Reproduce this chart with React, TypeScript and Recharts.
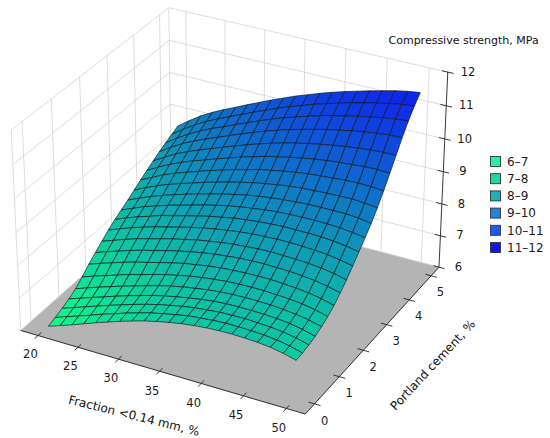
import { ScatterChart, Scatter, XAxis, YAxis, Legend } from "recharts";

// response surface grid
const FRACTION = [20, 21.5, 23, 24.5, 26, 27.5, 29, 30.5, 32, 33.5, 35, 36.5, 38, 39.5, 41, 42.5, 44, 45.5, 47, 48.5, 50];
const CEMENT = [0, 0.25, 0.5, 0.75, 1, 1.25, 1.5, 1.75, 2, 2.25, 2.5, 2.75, 3, 3.25, 3.5, 3.75, 4, 4.25, 4.5, 4.75, 5];
// STRENGTH[j][i] -> cement CEMENT[j], fraction FRACTION[i]
const STRENGTH = [
  [6.0, 6.13, 6.26, 6.4, 6.54, 6.67, 6.8, 6.92, 7.03, 7.12, 7.2, 7.27, 7.32, 7.36, 7.38, 7.39, 7.38, 7.36, 7.32, 7.25, 7.15],
  [6.08, 6.21, 6.34, 6.47, 6.61, 6.73, 6.86, 6.97, 7.08, 7.16, 7.24, 7.31, 7.35, 7.39, 7.41, 7.41, 7.4, 7.38, 7.34, 7.27, 7.17],
  [6.17, 6.3, 6.43, 6.56, 6.69, 6.81, 6.93, 7.04, 7.14, 7.22, 7.3, 7.36, 7.4, 7.44, 7.45, 7.46, 7.44, 7.42, 7.38, 7.31, 7.21],
  [6.27, 6.4, 6.53, 6.65, 6.78, 6.9, 7.01, 7.12, 7.21, 7.29, 7.36, 7.42, 7.47, 7.5, 7.51, 7.51, 7.5, 7.48, 7.44, 7.37, 7.27],
  [6.4, 6.53, 6.66, 6.78, 6.9, 7.01, 7.12, 7.23, 7.32, 7.4, 7.46, 7.52, 7.56, 7.59, 7.6, 7.6, 7.59, 7.56, 7.52, 7.46, 7.36],
  [6.58, 6.71, 6.83, 6.95, 7.07, 7.17, 7.28, 7.38, 7.46, 7.54, 7.6, 7.65, 7.69, 7.71, 7.72, 7.72, 7.7, 7.68, 7.64, 7.57, 7.47],
  [6.79, 6.92, 7.04, 7.16, 7.27, 7.36, 7.46, 7.55, 7.64, 7.7, 7.76, 7.81, 7.84, 7.86, 7.87, 7.87, 7.85, 7.82, 7.78, 7.71, 7.61],
  [6.97, 7.1, 7.22, 7.34, 7.45, 7.54, 7.64, 7.73, 7.81, 7.88, 7.94, 7.98, 8.02, 8.04, 8.05, 8.04, 8.03, 8.0, 7.96, 7.89, 7.8],
  [7.14, 7.27, 7.4, 7.52, 7.62, 7.72, 7.82, 7.9, 7.99, 8.05, 8.11, 8.16, 8.19, 8.22, 8.23, 8.22, 8.21, 8.19, 8.15, 8.09, 8.0],
  [7.31, 7.45, 7.58, 7.7, 7.81, 7.9, 8.0, 8.09, 8.17, 8.24, 8.3, 8.35, 8.39, 8.41, 8.43, 8.43, 8.42, 8.4, 8.37, 8.31, 8.23],
  [7.46, 7.61, 7.74, 7.86, 7.98, 8.07, 8.17, 8.26, 8.35, 8.42, 8.49, 8.54, 8.58, 8.61, 8.63, 8.63, 8.63, 8.62, 8.59, 8.54, 8.47],
  [7.58, 7.73, 7.88, 8.0, 8.12, 8.22, 8.32, 8.42, 8.51, 8.59, 8.66, 8.71, 8.76, 8.8, 8.82, 8.83, 8.84, 8.83, 8.81, 8.77, 8.71],
  [7.71, 7.87, 8.02, 8.15, 8.27, 8.38, 8.49, 8.58, 8.68, 8.76, 8.84, 8.9, 8.95, 8.99, 9.02, 9.04, 9.05, 9.05, 9.05, 9.02, 8.96],
  [7.85, 8.02, 8.18, 8.32, 8.44, 8.55, 8.67, 8.77, 8.87, 8.96, 9.04, 9.11, 9.17, 9.22, 9.26, 9.28, 9.3, 9.31, 9.32, 9.29, 9.25],
  [7.99, 8.17, 8.35, 8.49, 8.62, 8.74, 8.86, 8.97, 9.08, 9.17, 9.27, 9.34, 9.41, 9.47, 9.52, 9.55, 9.58, 9.61, 9.62, 9.61, 9.58],
  [8.12, 8.32, 8.5, 8.66, 8.8, 8.92, 9.05, 9.17, 9.29, 9.39, 9.5, 9.58, 9.66, 9.73, 9.79, 9.84, 9.88, 9.91, 9.94, 9.95, 9.93],
  [8.25, 8.46, 8.66, 8.82, 8.97, 9.1, 9.24, 9.37, 9.5, 9.62, 9.73, 9.83, 9.92, 10.0, 10.07, 10.13, 10.19, 10.23, 10.27, 10.29, 10.29],
  [8.37, 8.6, 8.81, 8.98, 9.14, 9.28, 9.43, 9.57, 9.71, 9.84, 9.96, 10.07, 10.17, 10.26, 10.35, 10.42, 10.49, 10.55, 10.6, 10.64, 10.65],
  [8.48, 8.72, 8.94, 9.13, 9.3, 9.44, 9.6, 9.75, 9.9, 10.04, 10.17, 10.29, 10.4, 10.51, 10.6, 10.68, 10.76, 10.83, 10.9, 10.95, 10.98],
  [8.58, 8.83, 9.06, 9.26, 9.43, 9.59, 9.75, 9.91, 10.06, 10.21, 10.35, 10.47, 10.6, 10.71, 10.81, 10.91, 11.0, 11.08, 11.16, 11.22, 11.26],
  [8.68, 8.94, 9.18, 9.38, 9.56, 9.72, 9.89, 10.05, 10.21, 10.36, 10.51, 10.64, 10.77, 10.89, 11.0, 11.1, 11.2, 11.29, 11.38, 11.45, 11.5],
];

const FRACTION_TICKS = [20, 25, 30, 35, 40, 45, 50];
const CEMENT_TICKS = [0, 1, 2, 3, 4, 5];
const STRENGTH_TICKS = [6, 7, 8, 9, 10, 11, 12];

const LEGEND_BANDS = ["6–7", "7–8", "8–9", "9–10", "10–11", "11–12"];
const LEGEND_COLORS = ["#22f2a4", "#1fd9a2", "#1fb0bb", "#1f84e3", "#1b5cef", "#0b17ee"];

// 3d box (pane limits) and camera
const F_LIM = [17.81, 52.19];
const C_LIM = [-0.365, 5.365];
const Z_LIM = [6, 12];
const BOX = [1.177, 1.143, 0.857];
const AZIM = -62;
const ELEV = 30;
const DIST = 10;
const X_DOMAIN = [-0.08631, 0.11664];
const Y_DOMAIN = [-0.08885, 0.07569];

const FONT = "DejaVu Sans, sans-serif";

const rad = Math.PI / 180;
const sa = Math.sin(AZIM * rad), ca = Math.cos(AZIM * rad);
const se = Math.sin(ELEV * rad), ce = Math.cos(ELEV * rad);
const R = [-sa, ca, 0];
const U = [-se * ca, -se * sa, ce];
const D = [ce * ca, ce * sa, se];

function project(fr: number, cem: number, z: number, extra: object = {}) {
  const p = [
    ((fr - F_LIM[0]) / (F_LIM[1] - F_LIM[0]) - 0.5) * BOX[0],
    ((cem - C_LIM[0]) / (C_LIM[1] - C_LIM[0]) - 0.5) * BOX[1],
    ((z - Z_LIM[0]) / (Z_LIM[1] - Z_LIM[0]) - 0.5) * BOX[2],
  ];
  const dot = (v: number[]) => p[0] * v[0] + p[1] * v[1] + p[2] * v[2];
  const k = 1 / (DIST - dot(D));
  return { x: dot(R) * k, y: dot(U) * k, ...extra };
}

// winter colormap, reversed, slightly lifted
function faceColor(z: number) {
  const t = Math.min(1, Math.max(0, (z - 6) / 6));
  return `rgb(14,${Math.round(12 + 238 * (1 - t))},${Math.round(140 + 108 * t)})`;
}

const surfacePts = CEMENT.flatMap((c, j) => FRACTION.map((f, i) => project(f, c, STRENGTH[j][i])));

const floorPts = [
  project(F_LIM[0], C_LIM[0], Z_LIM[0]),
  project(F_LIM[1], C_LIM[0], Z_LIM[0]),
  project(F_LIM[1], C_LIM[1], Z_LIM[0]),
  project(F_LIM[0], C_LIM[1], Z_LIM[0]),
];

const gridPts = [
  ...CEMENT_TICKS.flatMap((c) => [project(F_LIM[0], c, Z_LIM[0]), project(F_LIM[0], c, Z_LIM[1])]),
  ...FRACTION_TICKS.flatMap((f) => [project(f, C_LIM[1], Z_LIM[0]), project(f, C_LIM[1], Z_LIM[1])]),
  ...STRENGTH_TICKS.flatMap((z) => [
    project(F_LIM[0], C_LIM[0], z), project(F_LIM[0], C_LIM[1], z),
    project(F_LIM[0], C_LIM[1], z), project(F_LIM[1], C_LIM[1], z),
  ]),
  project(F_LIM[0], C_LIM[0], Z_LIM[0]), project(F_LIM[0], C_LIM[0], Z_LIM[1]),
  project(F_LIM[0], C_LIM[1], Z_LIM[0]), project(F_LIM[0], C_LIM[1], Z_LIM[1]),
];

const dF = 0.02 * (F_LIM[1] - F_LIM[0]);
const dC = 0.02 * (C_LIM[1] - C_LIM[0]);
const axisPts = [
  project(F_LIM[0], C_LIM[0], Z_LIM[0]), project(F_LIM[1], C_LIM[0], Z_LIM[0]),
  project(F_LIM[1], C_LIM[0], Z_LIM[0]), project(F_LIM[1], C_LIM[1], Z_LIM[0]),
  project(F_LIM[1], C_LIM[1], Z_LIM[0]), project(F_LIM[1], C_LIM[1], Z_LIM[1]),
  ...FRACTION_TICKS.flatMap((f) => [project(f, C_LIM[0] - dC, Z_LIM[0]), project(f, C_LIM[0] + dC, Z_LIM[0])]),
  ...CEMENT_TICKS.flatMap((c) => [project(F_LIM[1] - dF, c, Z_LIM[0]), project(F_LIM[1] + dF, c, Z_LIM[0])]),
  ...STRENGTH_TICKS.flatMap((z) => [project(F_LIM[1] - dF, C_LIM[1], z), project(F_LIM[1] + dF, C_LIM[1], z)]),
];

const fractionLabels = FRACTION_TICKS.map((f) => project(f, -0.65, 5.64, { label: String(f) }));
const cementLabels = CEMENT_TICKS.map((c) => project(53.39, c, 5.58, { label: String(c) }));
const strengthLabels = STRENGTH_TICKS.map((z) => project(54.08, 5.55, z, { label: String(z) }));
const titleLabels = [
  project(35.7, -1.51, 5.64, { label: "Fraction <0.14 mm, %", angle: 14 }),
  project(59.06, 2.5, 5.64, { label: "Portland cement, %", angle: -47 }),
];
const zTitle = [project(53.4, 5.55, 12.87, { label: "Compressive strength, MPa" })];

const noPoint = () => <g />;

const segments = (stroke: string, width: number) => (props: any) => {
  const p = props.points;
  const out = [];
  for (let i = 0; i + 1 < p.length; i += 2) {
    out.push(<line key={i} x1={p[i].x} y1={p[i].y} x2={p[i + 1].x} y2={p[i + 1].y} stroke={stroke} strokeWidth={width} />);
  }
  return <g>{out}</g>;
};

const floorLine = (props: any) => (
  <polygon points={props.points.map((q: any) => `${q.x},${q.y}`).join(" ")} fill="#b4b4b4" stroke="#b4b4b4" strokeWidth={0.5} />
);

const surfaceLine = (props: any) => {
  const p = props.points;
  const n = FRACTION.length;
  const polys = [];
  for (let j = CEMENT.length - 2; j >= 0; j--) {
    for (let i = 0; i < n - 1; i++) {
      const q = [p[j * n + i], p[j * n + i + 1], p[(j + 1) * n + i + 1], p[(j + 1) * n + i]];
      const z = (STRENGTH[j][i] + STRENGTH[j][i + 1] + STRENGTH[j + 1][i] + STRENGTH[j + 1][i + 1]) / 4;
      polys.push(
        <polygon
          key={`${j}-${i}`}
          points={q.map((v) => `${v.x},${v.y}`).join(" ")}
          fill={faceColor(z)}
          stroke="#141414"
          strokeWidth={0.65}
          strokeLinejoin="round"
        />
      );
    }
  }
  return <g>{polys}</g>;
};

const tickText = (props: any) => (
  <text x={props.cx} y={props.cy} textAnchor="middle" dominantBaseline="central" fontFamily={FONT} fontSize={11.5} fill="#1a1a1a">
    {props.payload.label}
  </text>
);

const axisTitle = (props: any) => (
  <text
    x={props.cx}
    y={props.cy}
    textAnchor="middle"
    dominantBaseline="central"
    fontFamily={FONT}
    fontSize={12}
    fill="#111"
    transform={`rotate(${props.payload.angle}, ${props.cx}, ${props.cy})`}
  >
    {props.payload.label}
  </text>
);

const zTitleText = (props: any) => (
  <text x={props.cx} y={props.cy} textAnchor="middle" dominantBaseline="central" fontFamily={FONT} fontSize={11} fill="#111">
    {props.payload.label}
  </text>
);

const renderLegend = () => (
  <svg width={70} height={104}>
    {LEGEND_BANDS.map((band, i) => (
      <g key={band}>
        <rect x={4.5} y={3.5 + i * 17.2} width={10} height={10} fill={LEGEND_COLORS[i]} stroke="#333" strokeWidth={0.9} />
        <text x={21} y={8.7 + i * 17.2} dominantBaseline="central" fontFamily={FONT} fontSize={12} fill="#1a1a1a">
          {band}
        </text>
      </g>
    ))}
  </svg>
);

export default function App() {
  return (
    <div style={{ position: "absolute", left: 0, top: 0, width: 550, height: 438, background: "#fff" }}>
      <ScatterChart width={550} height={438} margin={{ top: 0, right: 0, bottom: 0, left: 0 }}>
        <XAxis type="number" dataKey="x" domain={X_DOMAIN} hide allowDataOverflow />
        <YAxis type="number" dataKey="y" domain={Y_DOMAIN} hide allowDataOverflow />
        <Scatter data={floorPts} line={floorLine} shape={noPoint} isAnimationActive={false} />
        <Scatter data={gridPts} line={segments("#d4d4d4", 0.8)} shape={noPoint} isAnimationActive={false} />
        <Scatter data={surfacePts} line={surfaceLine} shape={noPoint} isAnimationActive={false} />
        <Scatter data={axisPts} line={segments("#222", 0.9)} shape={noPoint} isAnimationActive={false} />
        <Scatter data={fractionLabels} shape={tickText} isAnimationActive={false} />
        <Scatter data={cementLabels} shape={tickText} isAnimationActive={false} />
        <Scatter data={strengthLabels} shape={tickText} isAnimationActive={false} />
        <Scatter data={titleLabels} shape={axisTitle} isAnimationActive={false} />
        <Scatter data={zTitle} shape={zTitleText} isAnimationActive={false} />
        <Legend
          content={renderLegend}
          layout="vertical"
          align="center"
          verticalAlign="middle"
          wrapperStyle={{ left: 486, top: 153, width: 70, height: 104 }}
        />
      </ScatterChart>
    </div>
  );
}
